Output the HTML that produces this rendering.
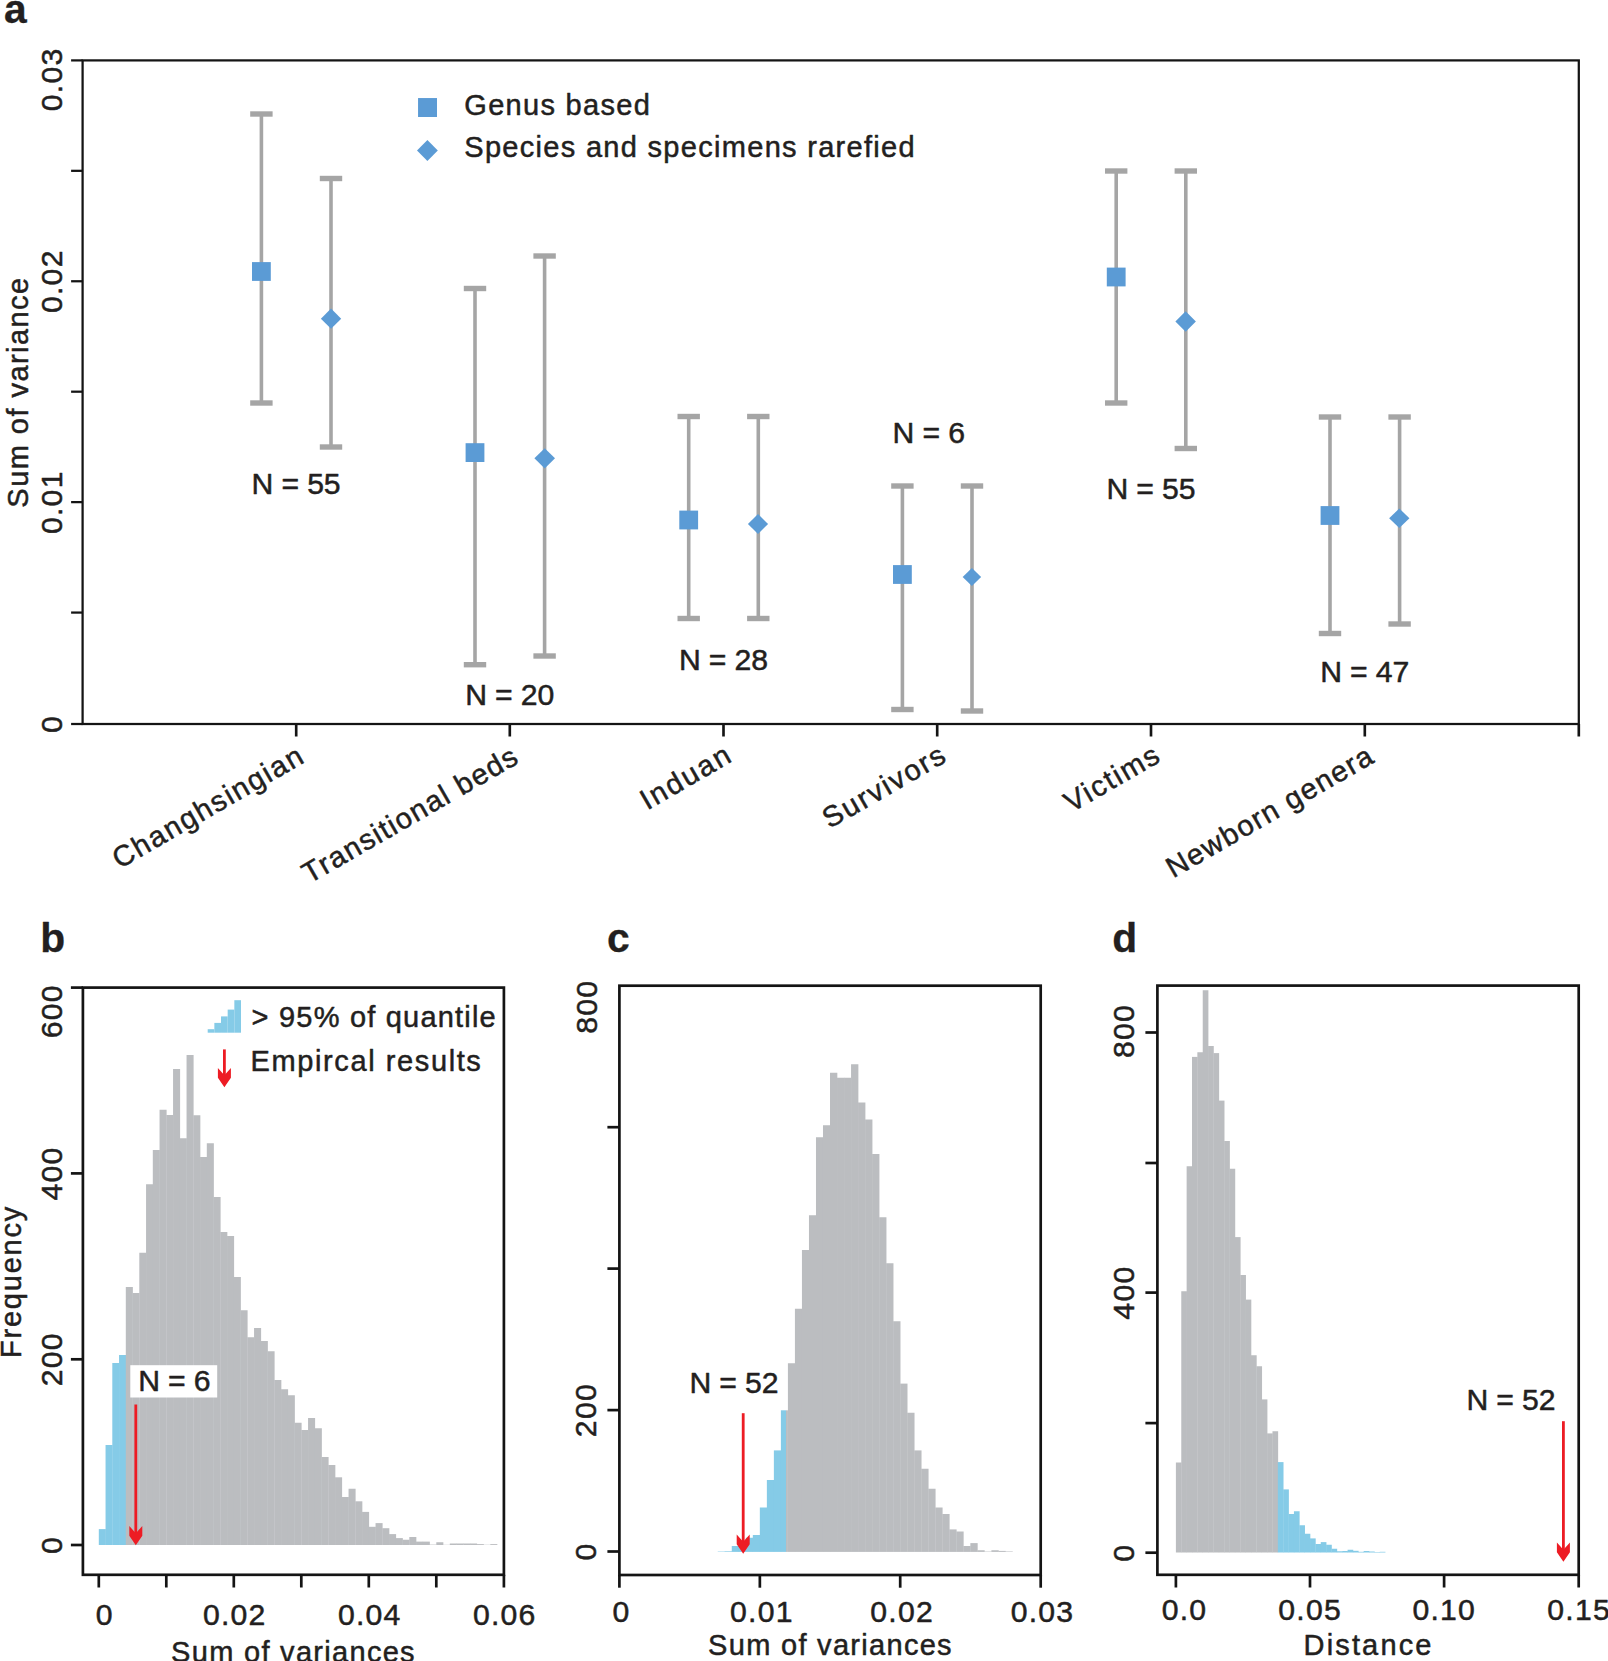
<!DOCTYPE html>
<html lang="en"><head><meta charset="utf-8"><title>Figure</title>
<style>
html,body{margin:0;padding:0;background:#fff;}
body{width:1608px;height:1661px;overflow:hidden;}
svg{display:block;}
text{font-family:"Liberation Sans",sans-serif;fill:#231f20;stroke:#231f20;stroke-width:0.5px;stroke-linejoin:round;}
</style></head><body>
<svg width="1608" height="1661" viewBox="0 0 1608 1661">
<rect x="0" y="0" width="1608" height="1661" fill="#fff"/>
<text x="4.00" y="22.50" text-anchor="start" font-size="40.8" font-weight="bold" letter-spacing="0" style="stroke-width:0.3px">a</text>
<rect x="82.6" y="60.4" width="1496.2" height="663.6" fill="none" stroke="#141414" stroke-width="2.25"/>
<line x1="71.10" y1="724.00" x2="82.60" y2="724.00" stroke="#141414" stroke-width="2.25" stroke-linecap="butt"/>
<line x1="71.10" y1="612.57" x2="82.60" y2="612.57" stroke="#141414" stroke-width="2.25" stroke-linecap="butt"/>
<line x1="71.10" y1="502.13" x2="82.60" y2="502.13" stroke="#141414" stroke-width="2.25" stroke-linecap="butt"/>
<line x1="71.10" y1="391.69" x2="82.60" y2="391.69" stroke="#141414" stroke-width="2.25" stroke-linecap="butt"/>
<line x1="71.10" y1="281.26" x2="82.60" y2="281.26" stroke="#141414" stroke-width="2.25" stroke-linecap="butt"/>
<line x1="71.10" y1="170.83" x2="82.60" y2="170.83" stroke="#141414" stroke-width="2.25" stroke-linecap="butt"/>
<line x1="71.10" y1="60.40" x2="82.60" y2="60.40" stroke="#141414" stroke-width="2.25" stroke-linecap="butt"/>
<text x="0" y="0" transform="translate(62.20,281.20) rotate(-90)" text-anchor="middle" font-size="30.2" letter-spacing="1.25">0.02</text>
<text x="0" y="0" transform="translate(62.20,502.20) rotate(-90)" text-anchor="middle" font-size="30.2" letter-spacing="1.25">0.01</text>
<text x="0" y="0" transform="translate(62.20,79.40) rotate(-90)" text-anchor="middle" font-size="30.2" letter-spacing="1.25">0.03</text>
<text x="0" y="0" transform="translate(62.20,724.00) rotate(-90)" text-anchor="middle" font-size="30.2" letter-spacing="1.25">0</text>
<text x="0" y="0" transform="translate(27.60,392.00) rotate(-90)" text-anchor="middle" font-size="29.0" letter-spacing="1.45">Sum of variance</text>
<line x1="296.20" y1="724.00" x2="296.20" y2="736.50" stroke="#141414" stroke-width="2.65" stroke-linecap="butt"/>
<line x1="509.80" y1="724.00" x2="509.80" y2="736.50" stroke="#141414" stroke-width="2.65" stroke-linecap="butt"/>
<line x1="723.50" y1="724.00" x2="723.50" y2="736.50" stroke="#141414" stroke-width="2.65" stroke-linecap="butt"/>
<line x1="937.20" y1="724.00" x2="937.20" y2="736.50" stroke="#141414" stroke-width="2.65" stroke-linecap="butt"/>
<line x1="1151.00" y1="724.00" x2="1151.00" y2="736.50" stroke="#141414" stroke-width="2.65" stroke-linecap="butt"/>
<line x1="1364.80" y1="724.00" x2="1364.80" y2="736.50" stroke="#141414" stroke-width="2.65" stroke-linecap="butt"/>
<line x1="1578.80" y1="724.00" x2="1578.80" y2="736.50" stroke="#141414" stroke-width="2.65" stroke-linecap="butt"/>
<line x1="261.40" y1="114.00" x2="261.40" y2="403.00" stroke="#a5a5a5" stroke-width="3.6" stroke-linecap="butt"/>
<rect x="250.20" y="111.30" width="22.40" height="5.40" fill="#a5a5a5"/>
<rect x="250.20" y="400.30" width="22.40" height="5.40" fill="#a5a5a5"/>
<line x1="331.00" y1="178.50" x2="331.00" y2="447.00" stroke="#a5a5a5" stroke-width="3.6" stroke-linecap="butt"/>
<rect x="319.80" y="175.80" width="22.40" height="5.40" fill="#a5a5a5"/>
<rect x="319.80" y="444.30" width="22.40" height="5.40" fill="#a5a5a5"/>
<rect x="252.00" y="262.10" width="18.80" height="18.80" fill="#5b9bd5"/>
<line x1="475.00" y1="288.50" x2="475.00" y2="664.70" stroke="#a5a5a5" stroke-width="3.6" stroke-linecap="butt"/>
<rect x="463.80" y="285.80" width="22.40" height="5.40" fill="#a5a5a5"/>
<rect x="463.80" y="662.00" width="22.40" height="5.40" fill="#a5a5a5"/>
<line x1="544.60" y1="256.00" x2="544.60" y2="656.00" stroke="#a5a5a5" stroke-width="3.6" stroke-linecap="butt"/>
<rect x="533.40" y="253.30" width="22.40" height="5.40" fill="#a5a5a5"/>
<rect x="533.40" y="653.30" width="22.40" height="5.40" fill="#a5a5a5"/>
<rect x="465.60" y="443.20" width="18.80" height="18.80" fill="#5b9bd5"/>
<line x1="688.70" y1="416.50" x2="688.70" y2="618.50" stroke="#a5a5a5" stroke-width="3.6" stroke-linecap="butt"/>
<rect x="677.50" y="413.80" width="22.40" height="5.40" fill="#a5a5a5"/>
<rect x="677.50" y="615.80" width="22.40" height="5.40" fill="#a5a5a5"/>
<line x1="758.30" y1="416.50" x2="758.30" y2="618.50" stroke="#a5a5a5" stroke-width="3.6" stroke-linecap="butt"/>
<rect x="747.10" y="413.80" width="22.40" height="5.40" fill="#a5a5a5"/>
<rect x="747.10" y="615.80" width="22.40" height="5.40" fill="#a5a5a5"/>
<rect x="679.30" y="510.60" width="18.80" height="18.80" fill="#5b9bd5"/>
<line x1="902.40" y1="486.00" x2="902.40" y2="709.50" stroke="#a5a5a5" stroke-width="3.6" stroke-linecap="butt"/>
<rect x="891.20" y="483.30" width="22.40" height="5.40" fill="#a5a5a5"/>
<rect x="891.20" y="706.80" width="22.40" height="5.40" fill="#a5a5a5"/>
<line x1="972.00" y1="486.00" x2="972.00" y2="711.00" stroke="#a5a5a5" stroke-width="3.6" stroke-linecap="butt"/>
<rect x="960.80" y="483.30" width="22.40" height="5.40" fill="#a5a5a5"/>
<rect x="960.80" y="708.30" width="22.40" height="5.40" fill="#a5a5a5"/>
<rect x="893.00" y="565.10" width="18.80" height="18.80" fill="#5b9bd5"/>
<line x1="1116.20" y1="171.00" x2="1116.20" y2="403.00" stroke="#a5a5a5" stroke-width="3.6" stroke-linecap="butt"/>
<rect x="1105.00" y="168.30" width="22.40" height="5.40" fill="#a5a5a5"/>
<rect x="1105.00" y="400.30" width="22.40" height="5.40" fill="#a5a5a5"/>
<line x1="1185.80" y1="171.00" x2="1185.80" y2="448.50" stroke="#a5a5a5" stroke-width="3.6" stroke-linecap="butt"/>
<rect x="1174.60" y="168.30" width="22.40" height="5.40" fill="#a5a5a5"/>
<rect x="1174.60" y="445.80" width="22.40" height="5.40" fill="#a5a5a5"/>
<rect x="1106.80" y="267.60" width="18.80" height="18.80" fill="#5b9bd5"/>
<line x1="1330.00" y1="417.00" x2="1330.00" y2="633.50" stroke="#a5a5a5" stroke-width="3.6" stroke-linecap="butt"/>
<rect x="1318.80" y="414.30" width="22.40" height="5.40" fill="#a5a5a5"/>
<rect x="1318.80" y="630.80" width="22.40" height="5.40" fill="#a5a5a5"/>
<line x1="1399.60" y1="417.00" x2="1399.60" y2="624.00" stroke="#a5a5a5" stroke-width="3.6" stroke-linecap="butt"/>
<rect x="1388.40" y="414.30" width="22.40" height="5.40" fill="#a5a5a5"/>
<rect x="1388.40" y="621.30" width="22.40" height="5.40" fill="#a5a5a5"/>
<rect x="1320.60" y="506.10" width="18.80" height="18.80" fill="#5b9bd5"/>
<path d="M331.05 308.50 L341.20 318.65 L331.05 328.80 L320.90 318.65 Z" fill="#5b9bd5"/>
<path d="M544.70 448.15 L555.00 458.30 L544.70 468.45 L534.40 458.30 Z" fill="#5b9bd5"/>
<path d="M758.00 513.95 L768.05 524.00 L758.00 534.05 L747.95 524.00 Z" fill="#5b9bd5"/>
<path d="M971.90 568.00 L981.15 577.05 L971.90 586.10 L962.65 577.05 Z" fill="#5b9bd5"/>
<path d="M1185.60 311.25 L1195.85 321.50 L1185.60 331.75 L1175.35 321.50 Z" fill="#5b9bd5"/>
<path d="M1399.30 508.50 L1409.45 518.30 L1399.30 528.10 L1389.15 518.30 Z" fill="#5b9bd5"/>
<text x="251.60" y="494.00" text-anchor="start" font-size="30.2" letter-spacing="-0.15">N = 55</text>
<text x="465.20" y="705.00" text-anchor="start" font-size="30.2" letter-spacing="-0.15">N = 20</text>
<text x="678.90" y="670.00" text-anchor="start" font-size="30.2" letter-spacing="-0.15">N = 28</text>
<text x="892.60" y="442.50" text-anchor="start" font-size="30.2" letter-spacing="-0.15">N = 6</text>
<text x="1106.40" y="498.50" text-anchor="start" font-size="30.2" letter-spacing="-0.15">N = 55</text>
<text x="1320.20" y="681.50" text-anchor="start" font-size="30.2" letter-spacing="-0.15">N = 47</text>
<rect x="418.05" y="98.05" width="18.95" height="18.95" fill="#5b9bd5"/>
<path d="M427.4 140.0 L437.8 150.5 L427.4 161.0 L417.0 150.5 Z" fill="#5b9bd5"/>
<text x="464.30" y="114.80" text-anchor="start" font-size="29.0" letter-spacing="1.3">Genus based</text>
<text x="464.30" y="157.30" text-anchor="start" font-size="29.0" letter-spacing="1.3">Species and specimens rarefied</text>
<text x="0" y="0" transform="translate(307.00,761.00) rotate(-30)" text-anchor="end" font-size="29.0" letter-spacing="1.78">Changhsingian</text>
<text x="0" y="0" transform="translate(521.20,761.70) rotate(-30)" text-anchor="end" font-size="29.0" letter-spacing="1.47">Transitional beds</text>
<text x="0" y="0" transform="translate(734.80,760.00) rotate(-30)" text-anchor="end" font-size="29.0" letter-spacing="2.07">Induan</text>
<text x="0" y="0" transform="translate(949.30,760.00) rotate(-30)" text-anchor="end" font-size="29.0" letter-spacing="1.93">Survivors</text>
<text x="0" y="0" transform="translate(1163.10,760.00) rotate(-30)" text-anchor="end" font-size="29.0" letter-spacing="1.86">Victims</text>
<text x="0" y="0" transform="translate(1376.60,761.10) rotate(-30)" text-anchor="end" font-size="29.0" letter-spacing="1.46">Newborn genera</text>
<text x="40.35" y="951.85" text-anchor="start" font-size="40.8" font-weight="bold" letter-spacing="0" style="stroke-width:0.3px">b</text>
<rect x="98.80" y="1529.10" width="7.05" height="15.90" fill="#85cbe7"/>
<rect x="105.55" y="1445.00" width="7.05" height="100.00" fill="#85cbe7"/>
<rect x="112.30" y="1363.00" width="7.05" height="182.00" fill="#85cbe7"/>
<rect x="119.05" y="1355.00" width="7.05" height="190.00" fill="#85cbe7"/>
<rect x="125.80" y="1287.00" width="7.05" height="258.00" fill="#bbbdc0"/>
<rect x="132.55" y="1293.00" width="7.05" height="252.00" fill="#bbbdc0"/>
<rect x="139.30" y="1252.75" width="7.05" height="292.25" fill="#bbbdc0"/>
<rect x="146.05" y="1184.25" width="7.05" height="360.75" fill="#bbbdc0"/>
<rect x="152.80" y="1150.00" width="7.05" height="395.00" fill="#bbbdc0"/>
<rect x="159.55" y="1109.75" width="7.05" height="435.25" fill="#bbbdc0"/>
<rect x="166.30" y="1115.00" width="7.05" height="430.00" fill="#bbbdc0"/>
<rect x="173.05" y="1069.00" width="7.05" height="476.00" fill="#bbbdc0"/>
<rect x="179.80" y="1138.25" width="7.05" height="406.75" fill="#bbbdc0"/>
<rect x="186.55" y="1055.00" width="7.05" height="490.00" fill="#bbbdc0"/>
<rect x="193.30" y="1115.25" width="7.05" height="429.75" fill="#bbbdc0"/>
<rect x="200.05" y="1157.00" width="7.05" height="388.00" fill="#bbbdc0"/>
<rect x="206.80" y="1143.25" width="7.05" height="401.75" fill="#bbbdc0"/>
<rect x="213.55" y="1197.00" width="7.05" height="348.00" fill="#bbbdc0"/>
<rect x="220.30" y="1232.00" width="7.05" height="313.00" fill="#bbbdc0"/>
<rect x="227.05" y="1236.00" width="7.05" height="309.00" fill="#bbbdc0"/>
<rect x="233.80" y="1277.00" width="7.05" height="268.00" fill="#bbbdc0"/>
<rect x="240.55" y="1310.25" width="7.05" height="234.75" fill="#bbbdc0"/>
<rect x="247.30" y="1337.25" width="7.05" height="207.75" fill="#bbbdc0"/>
<rect x="254.05" y="1328.00" width="7.05" height="217.00" fill="#bbbdc0"/>
<rect x="260.80" y="1341.00" width="7.05" height="204.00" fill="#bbbdc0"/>
<rect x="267.55" y="1351.25" width="7.05" height="193.75" fill="#bbbdc0"/>
<rect x="274.30" y="1380.00" width="7.05" height="165.00" fill="#bbbdc0"/>
<rect x="281.05" y="1389.25" width="7.05" height="155.75" fill="#bbbdc0"/>
<rect x="287.80" y="1395.25" width="7.05" height="149.75" fill="#bbbdc0"/>
<rect x="294.55" y="1422.75" width="7.05" height="122.25" fill="#bbbdc0"/>
<rect x="301.30" y="1430.00" width="7.05" height="115.00" fill="#bbbdc0"/>
<rect x="308.05" y="1418.00" width="7.05" height="127.00" fill="#bbbdc0"/>
<rect x="314.80" y="1428.25" width="7.05" height="116.75" fill="#bbbdc0"/>
<rect x="321.55" y="1457.00" width="7.05" height="88.00" fill="#bbbdc0"/>
<rect x="328.30" y="1465.00" width="7.05" height="80.00" fill="#bbbdc0"/>
<rect x="335.05" y="1477.30" width="7.05" height="67.70" fill="#bbbdc0"/>
<rect x="341.80" y="1497.00" width="7.05" height="48.00" fill="#bbbdc0"/>
<rect x="348.55" y="1488.75" width="7.05" height="56.25" fill="#bbbdc0"/>
<rect x="355.30" y="1501.30" width="7.05" height="43.70" fill="#bbbdc0"/>
<rect x="362.05" y="1511.90" width="7.05" height="33.10" fill="#bbbdc0"/>
<rect x="368.80" y="1526.80" width="7.05" height="18.20" fill="#bbbdc0"/>
<rect x="375.55" y="1523.10" width="7.05" height="21.90" fill="#bbbdc0"/>
<rect x="382.30" y="1528.20" width="7.05" height="16.80" fill="#bbbdc0"/>
<rect x="389.05" y="1534.10" width="7.05" height="10.90" fill="#bbbdc0"/>
<rect x="395.80" y="1538.10" width="7.05" height="6.90" fill="#bbbdc0"/>
<rect x="402.55" y="1539.75" width="7.05" height="5.25" fill="#bbbdc0"/>
<rect x="409.30" y="1537.00" width="7.05" height="8.00" fill="#bbbdc0"/>
<rect x="416.05" y="1541.60" width="7.05" height="3.40" fill="#bbbdc0"/>
<rect x="422.80" y="1541.60" width="7.05" height="3.40" fill="#bbbdc0"/>
<rect x="429.55" y="1544.60" width="7.05" height="0.40" fill="#bbbdc0"/>
<rect x="436.30" y="1542.25" width="7.05" height="2.75" fill="#bbbdc0"/>
<rect x="443.05" y="1544.80" width="7.05" height="0.20" fill="#bbbdc0"/>
<rect x="449.80" y="1543.50" width="7.05" height="1.50" fill="#bbbdc0"/>
<rect x="456.55" y="1543.50" width="7.05" height="1.50" fill="#bbbdc0"/>
<rect x="463.30" y="1543.50" width="7.05" height="1.50" fill="#bbbdc0"/>
<rect x="470.05" y="1543.50" width="7.05" height="1.50" fill="#bbbdc0"/>
<rect x="476.80" y="1544.10" width="7.05" height="0.90" fill="#bbbdc0"/>
<rect x="483.55" y="1544.75" width="7.05" height="0.25" fill="#bbbdc0"/>
<rect x="490.30" y="1544.10" width="7.05" height="0.90" fill="#bbbdc0"/>
<rect x="207.70" y="1029.20" width="6.66" height="3.50" fill="#85cbe7"/>
<rect x="214.36" y="1022.90" width="6.66" height="9.80" fill="#85cbe7"/>
<rect x="221.02" y="1016.40" width="6.66" height="16.30" fill="#85cbe7"/>
<rect x="227.68" y="1009.60" width="6.66" height="23.10" fill="#85cbe7"/>
<rect x="234.34" y="1000.20" width="6.66" height="32.50" fill="#85cbe7"/>
<text x="251.60" y="1026.80" text-anchor="start" font-size="29.0" letter-spacing="1.2">&gt; 95% of quantile</text>
<text x="250.60" y="1070.70" text-anchor="start" font-size="29.0" letter-spacing="1.6">Empircal results</text>
<line x1="224.40" y1="1049.40" x2="224.40" y2="1076.30" stroke="#ed1c24" stroke-width="2.8"/>
<path d="M224.40 1087.30 L217.90 1077.80 L217.90 1068.10 L224.40 1075.30 L230.90 1068.10 L230.90 1077.80 Z" fill="#ed1c24"/>
<rect x="130.30" y="1365.20" width="86.90" height="32.30" fill="#fff"/>
<text x="138.20" y="1391.30" text-anchor="start" font-size="30.2" letter-spacing="-0.15">N = 6</text>
<line x1="135.80" y1="1404.50" x2="135.80" y2="1534.20" stroke="#ed1c24" stroke-width="2.8"/>
<path d="M135.80 1545.20 L129.30 1535.70 L129.30 1526.00 L135.80 1533.20 L142.30 1526.00 L142.30 1535.70 Z" fill="#ed1c24"/>
<rect x="82.9" y="987.6" width="421.0" height="587.1999999999999" fill="none" stroke="#141414" stroke-width="2.7"/>
<line x1="70.90" y1="987.60" x2="82.90" y2="987.60" stroke="#141414" stroke-width="2.7" stroke-linecap="butt"/>
<line x1="70.90" y1="1173.40" x2="82.90" y2="1173.40" stroke="#141414" stroke-width="2.7" stroke-linecap="butt"/>
<line x1="70.90" y1="1359.30" x2="82.90" y2="1359.30" stroke="#141414" stroke-width="2.7" stroke-linecap="butt"/>
<line x1="70.90" y1="1545.00" x2="82.90" y2="1545.00" stroke="#141414" stroke-width="2.7" stroke-linecap="butt"/>
<text x="0" y="0" transform="translate(62.20,1011.20) rotate(-90)" text-anchor="middle" font-size="30.2" letter-spacing="1.25">600</text>
<text x="0" y="0" transform="translate(62.20,1173.40) rotate(-90)" text-anchor="middle" font-size="30.2" letter-spacing="1.25">400</text>
<text x="0" y="0" transform="translate(62.20,1359.30) rotate(-90)" text-anchor="middle" font-size="30.2" letter-spacing="1.25">200</text>
<text x="0" y="0" transform="translate(62.20,1545.00) rotate(-90)" text-anchor="middle" font-size="30.2" letter-spacing="1.25">0</text>
<text x="0" y="0" transform="translate(21.10,1281.50) rotate(-90)" text-anchor="middle" font-size="29.0" letter-spacing="1.75">Frequency</text>
<line x1="98.80" y1="1574.80" x2="98.80" y2="1587.50" stroke="#141414" stroke-width="2.7" stroke-linecap="butt"/>
<line x1="166.30" y1="1574.80" x2="166.30" y2="1587.50" stroke="#141414" stroke-width="2.7" stroke-linecap="butt"/>
<line x1="233.80" y1="1574.80" x2="233.80" y2="1587.50" stroke="#141414" stroke-width="2.7" stroke-linecap="butt"/>
<line x1="301.30" y1="1574.80" x2="301.30" y2="1587.50" stroke="#141414" stroke-width="2.7" stroke-linecap="butt"/>
<line x1="368.80" y1="1574.80" x2="368.80" y2="1587.50" stroke="#141414" stroke-width="2.7" stroke-linecap="butt"/>
<line x1="436.30" y1="1574.80" x2="436.30" y2="1587.50" stroke="#141414" stroke-width="2.7" stroke-linecap="butt"/>
<line x1="503.90" y1="1574.80" x2="503.90" y2="1587.50" stroke="#141414" stroke-width="2.7" stroke-linecap="butt"/>
<text x="104.80" y="1625.40" text-anchor="middle" font-size="30.2" letter-spacing="1.25">0</text>
<text x="234.80" y="1625.40" text-anchor="middle" font-size="30.2" letter-spacing="1.25">0.02</text>
<text x="369.80" y="1625.40" text-anchor="middle" font-size="30.2" letter-spacing="1.25">0.04</text>
<text x="504.80" y="1625.40" text-anchor="middle" font-size="30.2" letter-spacing="1.25">0.06</text>
<text x="293.50" y="1662.40" text-anchor="middle" font-size="29.0" letter-spacing="1.3">Sum of variances</text>
<text x="606.90" y="952.05" text-anchor="start" font-size="40.8" font-weight="bold" letter-spacing="0" style="stroke-width:0.3px">c</text>
<rect x="717.74" y="1551.50" width="7.32" height="0.40" fill="#85cbe7"/>
<rect x="724.75" y="1551.25" width="7.32" height="0.65" fill="#85cbe7"/>
<rect x="731.77" y="1546.00" width="7.32" height="5.90" fill="#85cbe7"/>
<rect x="738.79" y="1546.00" width="7.32" height="5.90" fill="#85cbe7"/>
<rect x="745.81" y="1537.75" width="7.32" height="14.15" fill="#85cbe7"/>
<rect x="752.82" y="1535.00" width="7.32" height="16.90" fill="#85cbe7"/>
<rect x="759.84" y="1507.50" width="7.32" height="44.40" fill="#85cbe7"/>
<rect x="766.86" y="1480.00" width="7.32" height="71.90" fill="#85cbe7"/>
<rect x="773.87" y="1450.40" width="7.32" height="101.50" fill="#85cbe7"/>
<rect x="780.89" y="1410.30" width="5.11" height="141.60" fill="#85cbe7"/>
<rect x="786.00" y="1410.30" width="1.91" height="141.60" fill="#bbbdc0"/>
<rect x="787.91" y="1363.25" width="7.32" height="188.65" fill="#bbbdc0"/>
<rect x="794.92" y="1308.75" width="7.32" height="243.15" fill="#bbbdc0"/>
<rect x="801.94" y="1250.00" width="7.32" height="301.90" fill="#bbbdc0"/>
<rect x="808.96" y="1215.25" width="7.32" height="336.65" fill="#bbbdc0"/>
<rect x="815.98" y="1137.25" width="7.32" height="414.65" fill="#bbbdc0"/>
<rect x="822.99" y="1125.25" width="7.32" height="426.65" fill="#bbbdc0"/>
<rect x="830.01" y="1072.75" width="7.32" height="479.15" fill="#bbbdc0"/>
<rect x="837.03" y="1077.75" width="7.32" height="474.15" fill="#bbbdc0"/>
<rect x="844.04" y="1077.75" width="7.32" height="474.15" fill="#bbbdc0"/>
<rect x="851.06" y="1064.25" width="7.32" height="487.65" fill="#bbbdc0"/>
<rect x="858.08" y="1102.50" width="7.32" height="449.40" fill="#bbbdc0"/>
<rect x="865.10" y="1119.50" width="7.32" height="432.40" fill="#bbbdc0"/>
<rect x="872.11" y="1154.00" width="7.32" height="397.90" fill="#bbbdc0"/>
<rect x="879.13" y="1217.25" width="7.32" height="334.65" fill="#bbbdc0"/>
<rect x="886.15" y="1263.25" width="7.32" height="288.65" fill="#bbbdc0"/>
<rect x="893.16" y="1321.25" width="7.32" height="230.65" fill="#bbbdc0"/>
<rect x="900.18" y="1383.60" width="7.32" height="168.30" fill="#bbbdc0"/>
<rect x="907.20" y="1412.75" width="7.32" height="139.15" fill="#bbbdc0"/>
<rect x="914.21" y="1450.40" width="7.32" height="101.50" fill="#bbbdc0"/>
<rect x="921.23" y="1468.75" width="7.32" height="83.15" fill="#bbbdc0"/>
<rect x="928.25" y="1488.75" width="7.32" height="63.15" fill="#bbbdc0"/>
<rect x="935.27" y="1507.50" width="7.32" height="44.40" fill="#bbbdc0"/>
<rect x="942.28" y="1514.00" width="7.32" height="37.90" fill="#bbbdc0"/>
<rect x="949.30" y="1529.40" width="7.32" height="22.50" fill="#bbbdc0"/>
<rect x="956.32" y="1531.50" width="7.32" height="20.40" fill="#bbbdc0"/>
<rect x="963.33" y="1546.00" width="7.32" height="5.90" fill="#bbbdc0"/>
<rect x="970.35" y="1543.10" width="7.32" height="8.80" fill="#bbbdc0"/>
<rect x="977.37" y="1550.25" width="7.32" height="1.65" fill="#bbbdc0"/>
<rect x="984.38" y="1551.50" width="7.32" height="0.40" fill="#bbbdc0"/>
<rect x="991.40" y="1550.25" width="7.32" height="1.65" fill="#bbbdc0"/>
<rect x="998.42" y="1550.90" width="7.32" height="1.00" fill="#bbbdc0"/>
<rect x="1005.43" y="1551.40" width="7.32" height="0.50" fill="#bbbdc0"/>
<text x="689.40" y="1393.20" text-anchor="start" font-size="30.2" letter-spacing="-0.15">N = 52</text>
<line x1="743.20" y1="1413.20" x2="743.20" y2="1542.75" stroke="#ed1c24" stroke-width="2.8"/>
<path d="M743.20 1553.75 L736.70 1544.25 L736.70 1534.55 L743.20 1541.75 L749.70 1534.55 L749.70 1544.25 Z" fill="#ed1c24"/>
<rect x="619.4" y="985.7" width="421.30000000000007" height="589.3" fill="none" stroke="#141414" stroke-width="2.7"/>
<line x1="607.40" y1="1127.20" x2="619.40" y2="1127.20" stroke="#141414" stroke-width="2.7" stroke-linecap="butt"/>
<line x1="607.40" y1="1268.60" x2="619.40" y2="1268.60" stroke="#141414" stroke-width="2.7" stroke-linecap="butt"/>
<line x1="607.40" y1="1410.10" x2="619.40" y2="1410.10" stroke="#141414" stroke-width="2.7" stroke-linecap="butt"/>
<line x1="607.40" y1="1551.50" x2="619.40" y2="1551.50" stroke="#141414" stroke-width="2.7" stroke-linecap="butt"/>
<text x="0" y="0" transform="translate(596.60,1006.80) rotate(-90)" text-anchor="middle" font-size="30.2" letter-spacing="1.25">800</text>
<text x="0" y="0" transform="translate(596.20,1410.10) rotate(-90)" text-anchor="middle" font-size="30.2" letter-spacing="1.25">200</text>
<text x="0" y="0" transform="translate(596.20,1551.50) rotate(-90)" text-anchor="middle" font-size="30.2" letter-spacing="1.25">0</text>
<line x1="619.40" y1="1575.00" x2="619.40" y2="1587.70" stroke="#141414" stroke-width="2.7" stroke-linecap="butt"/>
<line x1="759.85" y1="1575.00" x2="759.85" y2="1587.70" stroke="#141414" stroke-width="2.7" stroke-linecap="butt"/>
<line x1="900.20" y1="1575.00" x2="900.20" y2="1587.70" stroke="#141414" stroke-width="2.7" stroke-linecap="butt"/>
<line x1="1040.70" y1="1575.00" x2="1040.70" y2="1587.70" stroke="#141414" stroke-width="2.7" stroke-linecap="butt"/>
<text x="621.50" y="1621.90" text-anchor="middle" font-size="30.2" letter-spacing="1.25">0</text>
<text x="761.85" y="1621.90" text-anchor="middle" font-size="30.2" letter-spacing="1.25">0.01</text>
<text x="902.20" y="1621.90" text-anchor="middle" font-size="30.2" letter-spacing="1.25">0.02</text>
<text x="1042.55" y="1621.90" text-anchor="middle" font-size="30.2" letter-spacing="1.25">0.03</text>
<text x="830.50" y="1655.00" text-anchor="middle" font-size="29.0" letter-spacing="1.3">Sum of variances</text>
<text x="1112.30" y="952.20" text-anchor="start" font-size="40.8" font-weight="bold" letter-spacing="0" style="stroke-width:0.3px">d</text>
<rect x="1175.90" y="1462.50" width="5.67" height="90.00" fill="#bbbdc0"/>
<rect x="1181.27" y="1291.25" width="5.67" height="261.25" fill="#bbbdc0"/>
<rect x="1186.63" y="1166.25" width="5.67" height="386.25" fill="#bbbdc0"/>
<rect x="1192.00" y="1056.90" width="5.67" height="495.60" fill="#bbbdc0"/>
<rect x="1197.36" y="1052.25" width="5.67" height="500.25" fill="#bbbdc0"/>
<rect x="1202.73" y="990.25" width="5.67" height="562.25" fill="#bbbdc0"/>
<rect x="1208.09" y="1046.00" width="5.67" height="506.50" fill="#bbbdc0"/>
<rect x="1213.46" y="1053.10" width="5.67" height="499.40" fill="#bbbdc0"/>
<rect x="1218.82" y="1100.60" width="5.67" height="451.90" fill="#bbbdc0"/>
<rect x="1224.19" y="1141.00" width="5.67" height="411.50" fill="#bbbdc0"/>
<rect x="1229.55" y="1168.75" width="5.67" height="383.75" fill="#bbbdc0"/>
<rect x="1234.92" y="1237.10" width="5.67" height="315.40" fill="#bbbdc0"/>
<rect x="1240.28" y="1275.00" width="5.67" height="277.50" fill="#bbbdc0"/>
<rect x="1245.64" y="1299.60" width="5.67" height="252.90" fill="#bbbdc0"/>
<rect x="1251.01" y="1355.25" width="5.67" height="197.25" fill="#bbbdc0"/>
<rect x="1256.38" y="1366.25" width="5.67" height="186.25" fill="#bbbdc0"/>
<rect x="1261.74" y="1399.40" width="5.67" height="153.10" fill="#bbbdc0"/>
<rect x="1267.11" y="1433.40" width="5.67" height="119.10" fill="#bbbdc0"/>
<rect x="1272.47" y="1431.25" width="5.67" height="121.25" fill="#bbbdc0"/>
<rect x="1277.84" y="1462.10" width="5.67" height="90.40" fill="#85cbe7"/>
<rect x="1283.20" y="1489.40" width="5.67" height="63.10" fill="#85cbe7"/>
<rect x="1288.57" y="1514.00" width="5.67" height="38.50" fill="#85cbe7"/>
<rect x="1293.93" y="1511.25" width="5.67" height="41.25" fill="#85cbe7"/>
<rect x="1299.30" y="1525.25" width="5.67" height="27.25" fill="#85cbe7"/>
<rect x="1304.66" y="1533.75" width="5.67" height="18.75" fill="#85cbe7"/>
<rect x="1310.03" y="1538.40" width="5.67" height="14.10" fill="#85cbe7"/>
<rect x="1315.39" y="1544.00" width="5.67" height="8.50" fill="#85cbe7"/>
<rect x="1320.76" y="1542.10" width="5.67" height="10.40" fill="#85cbe7"/>
<rect x="1326.12" y="1544.75" width="5.67" height="7.75" fill="#85cbe7"/>
<rect x="1331.49" y="1548.75" width="5.67" height="3.75" fill="#85cbe7"/>
<rect x="1336.85" y="1551.25" width="5.67" height="1.25" fill="#85cbe7"/>
<rect x="1342.22" y="1551.00" width="5.67" height="1.50" fill="#85cbe7"/>
<rect x="1347.58" y="1549.75" width="5.67" height="2.75" fill="#85cbe7"/>
<rect x="1352.95" y="1550.80" width="5.67" height="1.70" fill="#85cbe7"/>
<rect x="1358.31" y="1551.80" width="5.67" height="0.70" fill="#85cbe7"/>
<rect x="1363.68" y="1551.00" width="5.67" height="1.50" fill="#85cbe7"/>
<rect x="1369.04" y="1551.50" width="5.67" height="1.00" fill="#85cbe7"/>
<rect x="1374.41" y="1552.00" width="5.67" height="0.50" fill="#85cbe7"/>
<rect x="1379.77" y="1551.80" width="5.67" height="0.70" fill="#85cbe7"/>
<text x="1466.40" y="1409.75" text-anchor="start" font-size="30.2" letter-spacing="-0.15">N = 52</text>
<line x1="1563.40" y1="1421.20" x2="1563.40" y2="1550.70" stroke="#ed1c24" stroke-width="2.8"/>
<path d="M1563.40 1561.70 L1556.90 1552.20 L1556.90 1542.50 L1563.40 1549.70 L1569.90 1542.50 L1569.90 1552.20 Z" fill="#ed1c24"/>
<rect x="1157.4" y="985.6" width="421.29999999999995" height="589.1999999999999" fill="none" stroke="#141414" stroke-width="2.7"/>
<line x1="1145.40" y1="1032.50" x2="1157.40" y2="1032.50" stroke="#141414" stroke-width="2.7" stroke-linecap="butt"/>
<line x1="1145.40" y1="1163.00" x2="1157.40" y2="1163.00" stroke="#141414" stroke-width="2.7" stroke-linecap="butt"/>
<line x1="1145.40" y1="1292.60" x2="1157.40" y2="1292.60" stroke="#141414" stroke-width="2.7" stroke-linecap="butt"/>
<line x1="1145.40" y1="1423.10" x2="1157.40" y2="1423.10" stroke="#141414" stroke-width="2.7" stroke-linecap="butt"/>
<line x1="1145.40" y1="1552.70" x2="1157.40" y2="1552.70" stroke="#141414" stroke-width="2.7" stroke-linecap="butt"/>
<text x="0" y="0" transform="translate(1133.80,1031.00) rotate(-90)" text-anchor="middle" font-size="30.2" letter-spacing="1.25">800</text>
<text x="0" y="0" transform="translate(1133.80,1292.60) rotate(-90)" text-anchor="middle" font-size="30.2" letter-spacing="1.25">400</text>
<text x="0" y="0" transform="translate(1133.80,1552.70) rotate(-90)" text-anchor="middle" font-size="30.2" letter-spacing="1.25">0</text>
<line x1="1175.90" y1="1574.80" x2="1175.90" y2="1587.50" stroke="#141414" stroke-width="2.7" stroke-linecap="butt"/>
<line x1="1310.00" y1="1574.80" x2="1310.00" y2="1587.50" stroke="#141414" stroke-width="2.7" stroke-linecap="butt"/>
<line x1="1444.10" y1="1574.80" x2="1444.10" y2="1587.50" stroke="#141414" stroke-width="2.7" stroke-linecap="butt"/>
<line x1="1578.70" y1="1574.80" x2="1578.70" y2="1587.50" stroke="#141414" stroke-width="2.7" stroke-linecap="butt"/>
<text x="1184.50" y="1620.00" text-anchor="middle" font-size="30.2" letter-spacing="1.25">0.0</text>
<text x="1310.20" y="1620.00" text-anchor="middle" font-size="30.2" letter-spacing="1.25">0.05</text>
<text x="1444.30" y="1620.00" text-anchor="middle" font-size="30.2" letter-spacing="1.25">0.10</text>
<text x="1579.20" y="1620.00" text-anchor="middle" font-size="30.2" letter-spacing="1.25">0.15</text>
<text x="1368.60" y="1654.80" text-anchor="middle" font-size="29.0" letter-spacing="2.15">Distance</text>
</svg>
</body></html>
